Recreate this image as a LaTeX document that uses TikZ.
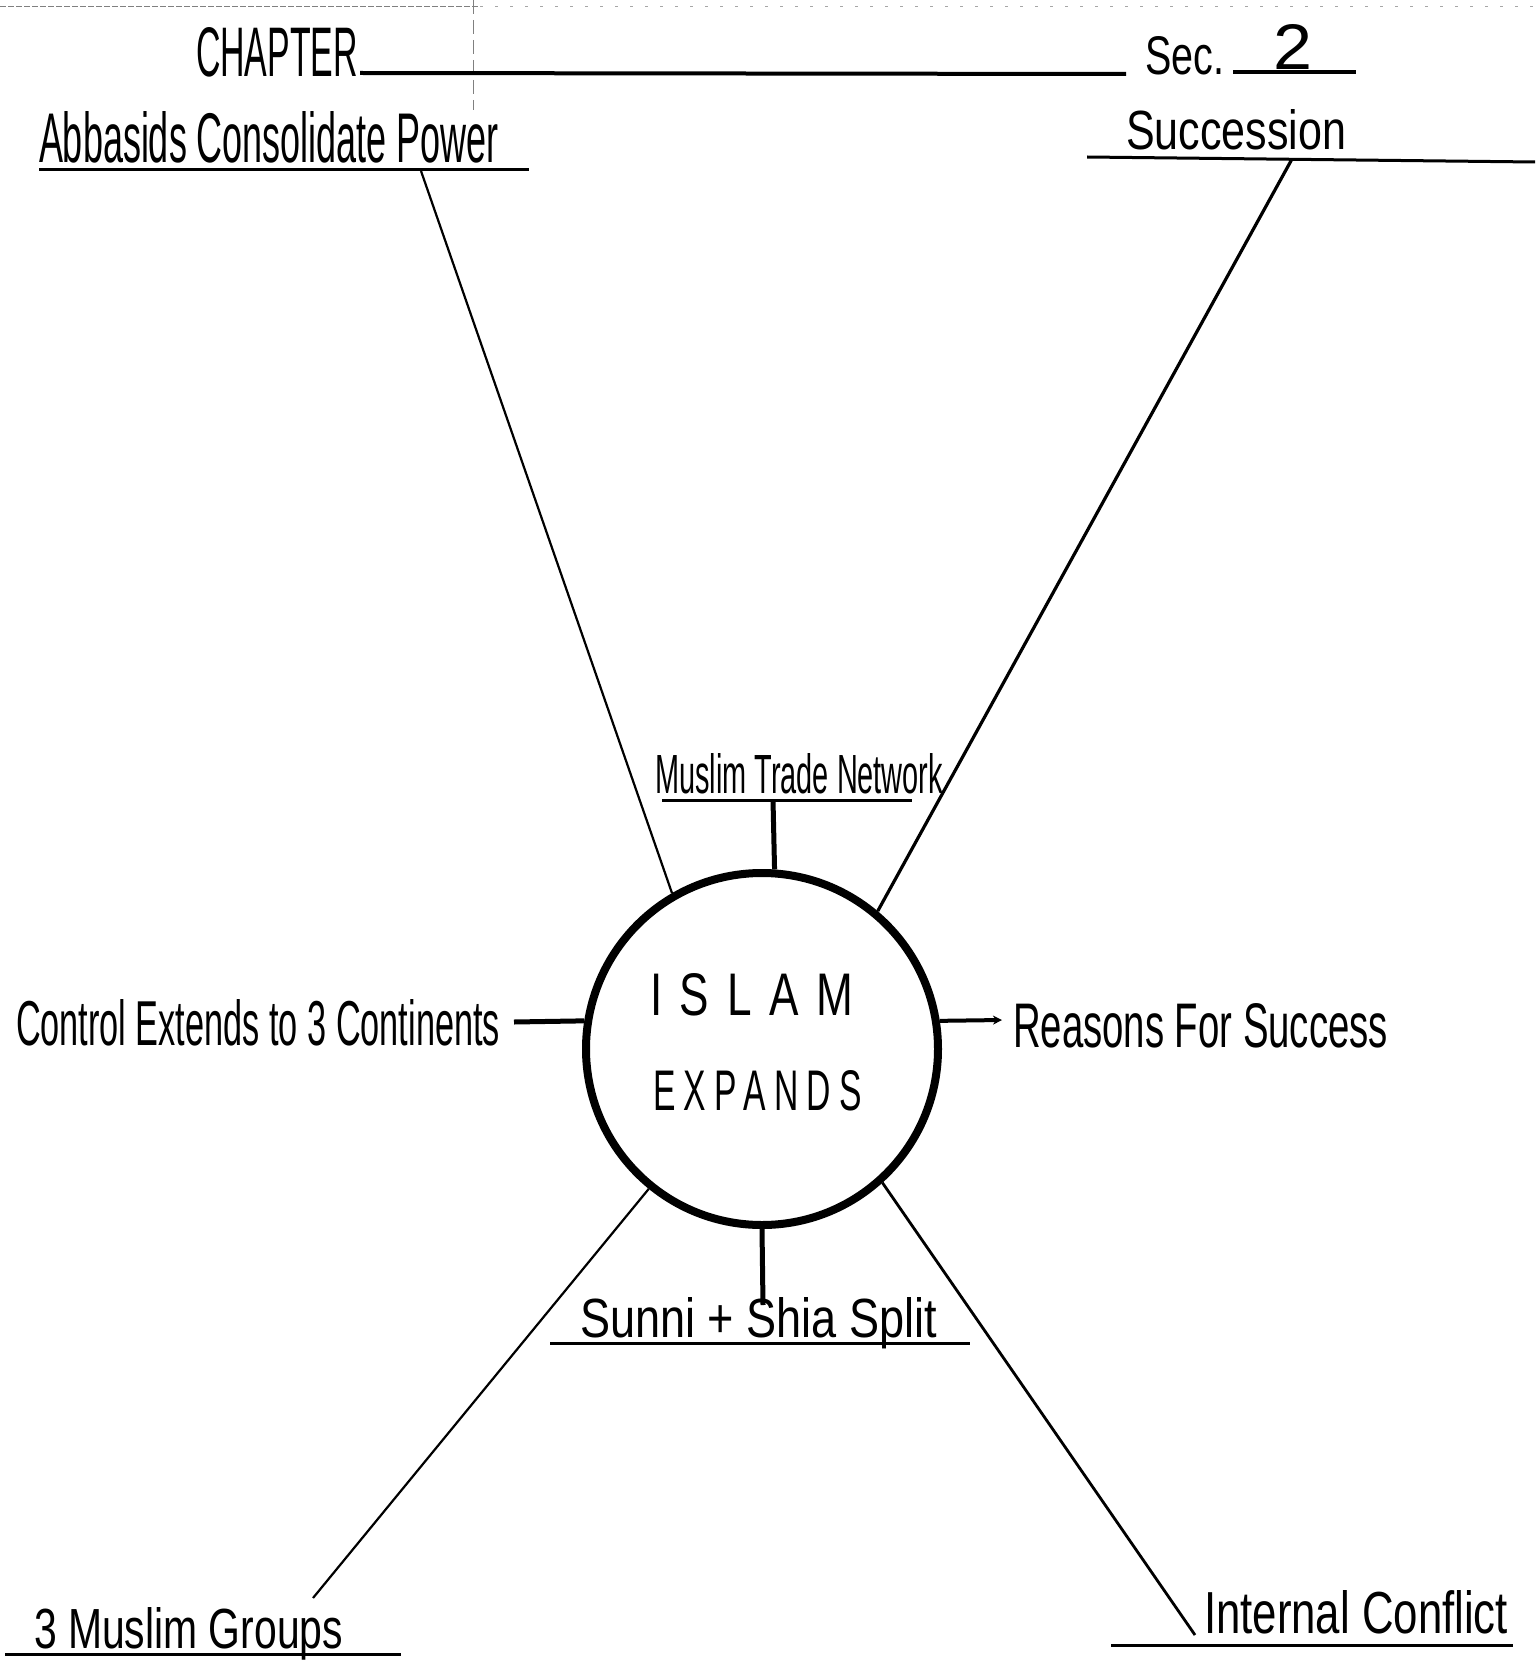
\documentclass[tikz,border=0pt]{standalone}
\usepackage{fontspec}
\setmainfont{Liberation Sans}
\usetikzlibrary{arrows.meta}
\newcommand\hwtxt[3]{\resizebox{#1pt}{#2pt}{#3}}
\begin{document}
\begin{tikzpicture}[x=1pt,y=-1pt,
  lbl/.style={anchor=base west,inner sep=0pt,outer sep=0pt},
  uline/.style={line width=3pt},
  thinconn/.style={line width=2.2pt},
  thickconn/.style={line width=5pt}]
\useasboundingbox[fill=white] (0,0) rectangle (1535,1669);
% scan border
\draw[line width=1pt,gray,dash pattern=on 6pt off 2pt] (0,7) -- (480,7);
\draw[line width=1pt,gray!70,dash pattern=on 3pt off 12pt] (480,7) -- (1535,7);
\draw[line width=1pt,gray,dash pattern=on 14pt off 6pt] (473,0) -- (473,110);
% header
\node[lbl] (chap) at (196,77) {\hwtxt{162}{49}{CHAPTER}};
\coordinate (chapA) at (360,73);
\coordinate (chapB) at (1126,74);
\draw[line width=4pt] (chapA) -- (chapB);
\node[lbl] (sec) at (1145,75) {\hwtxt{79}{38}{Sec.}};
\node[lbl] (secnum) at (1273,70) {\hwtxt{39}{45}{2}};
\coordinate (secA) at (1233,72);
\coordinate (secB) at (1356,72);
\draw[line width=4pt] (secA) -- (secB);
% central circle
\node[draw,circle,line width=8pt,minimum size=352pt,inner sep=0pt] (circ) at (762,1049) {};
\node[lbl] (isl) at (650,1015) {\hwtxt{203}{42}{\addfontfeature{LetterSpace=40}ISLAM}};
\node[lbl] (exp) at (653,1110) {\hwtxt{209}{40}{\addfontfeature{LetterSpace=25}EXPANDS}};
% Abbasids
\node[lbl] (abb) at (39,163) {\hwtxt{460}{51}{Abbasids Consolidate Power}};
\coordinate (abbA) at (39,170);
\coordinate (abbB) at (529,170);
\draw[uline] (abbA) -- (abbB);
\coordinate (abbC) at (421,171);
\draw[thinconn] (abbC) -- (circ.120);
% Succession
\node[lbl] (suc) at (1126,150) {\hwtxt{220}{40}{Succession}};
\coordinate (sucA) at (1087,157);
\coordinate (sucB) at (1535,162);
\draw[uline] (sucA) -- (sucB);
\coordinate (sucC) at (1292,159);
\draw[line width=3.2pt] (sucC) -- (circ.50);
% Muslim Trade Network
\node[lbl] (mtn) at (655,793) {\hwtxt{288}{40}{Muslim Trade Network}};
\coordinate (mtnA) at (662,800);
\coordinate (mtnB) at (912,800);
\draw[uline] (mtnA) -- (mtnB);
\coordinate (mtnC) at (773,800);
\draw[thickconn] (mtnC) -- (circ.86);
% Control Extends
\node[lbl] (ctl) at (16,1045) {\hwtxt{484}{46}{Control Extends to 3 Continents}};
\coordinate (ctlC) at (514,1022);
\draw[thickconn] (ctlC) -- (circ.171);
% Reasons for success
\node[lbl] (rfs) at (1013,1047) {\hwtxt{375}{44}{Reasons For Success}};
\coordinate (rfsC) at (1002,1020);
\draw[line width=4pt,-{Stealth[length=9pt,width=9pt]}] (circ.9) -- (rfsC);
% Sunni + Shia
\node[lbl] (ss) at (580,1337) {\hwtxt{357}{40}{Sunni + Shia Split}};
\coordinate (ssA) at (550,1343);
\coordinate (ssB) at (970,1343);
\draw[uline] (ssA) -- (ssB);
\coordinate (ssC) at (763,1305);
\draw[thickconn] (circ.-90) -- (ssC);
% 3 Muslim groups
\node[lbl] (mg) at (34,1648) {\hwtxt{309}{41}{3 Muslim Groups}};
\coordinate (mgA) at (5,1654);
\coordinate (mgB) at (401,1654);
\draw[uline] (mgA) -- (mgB);
\coordinate (mgC) at (313,1598);
\draw[thinconn] (circ.-129.4) -- (mgC);
% Internal conflict
\node[lbl] (ic) at (1204,1633) {\hwtxt{304}{43}{Internal Conflict}};
\coordinate (icA) at (1111,1645);
\coordinate (icB) at (1513,1645);
\draw[uline] (icA) -- (icB);
\coordinate (icC) at (1195,1635);
\draw[line width=2.8pt] (circ.-48.6) -- (icC);
\end{tikzpicture}
\end{document}
